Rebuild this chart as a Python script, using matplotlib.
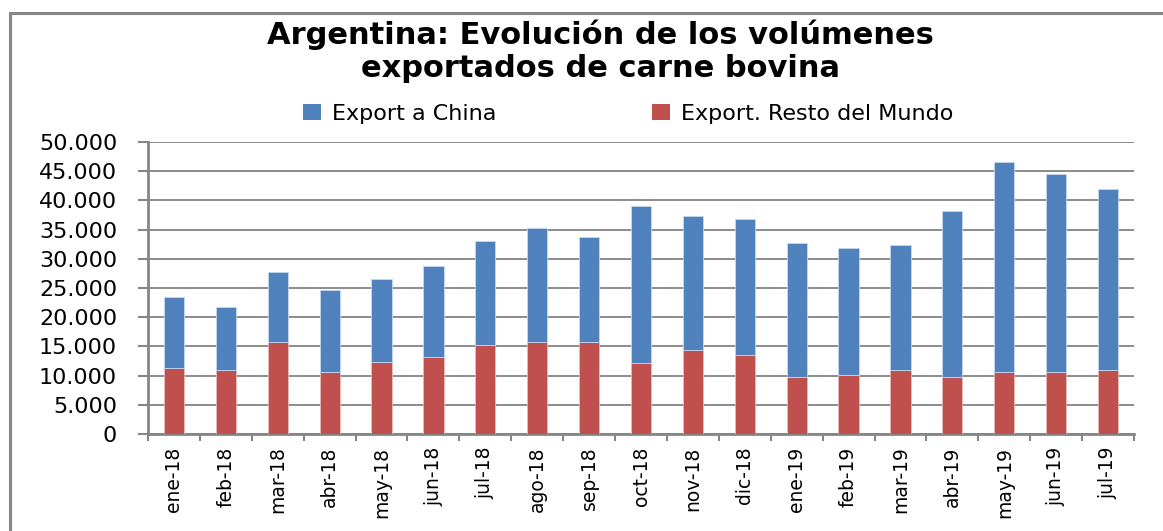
import matplotlib
matplotlib.use("Agg")
import matplotlib.pyplot as plt
from matplotlib.patches import Rectangle, Patch
import numpy as np

months = ["ene-18", "feb-18", "mar-18", "abr-18", "may-18", "jun-18", "jul-18",
          "ago-18", "sep-18", "oct-18", "nov-18", "dic-18", "ene-19", "feb-19",
          "mar-19", "abr-19", "may-19", "jun-19", "jul-19"]
totals = [23400, 21800, 27700, 24600, 26600, 28800, 33100, 35300, 33800, 39100,
          37300, 36900, 32700, 31900, 32400, 38200, 46500, 44600, 41900]
resto = [11300, 10900, 15800, 10600, 12300, 13100, 15300, 15800, 15800, 12100,
         14300, 13500, 9800, 10100, 11000, 9800, 10700, 10600, 10900]
china = [t - r for t, r in zip(totals, resto)]
yticks = list(range(0, 50001, 5000))
ytick_labels = ["0" if v == 0 else f"{v:,}".replace(",", ".") for v in yticks]

BLUE = "#4F81BD"
RED = "#C0504D"
GRAY = "#868686"

W, H = 1163, 531
fig = plt.figure(figsize=(W / 100, H / 100), dpi=100)
plt.rcParams['font.family'] = ['DejaVu Sans']

# outer chart border (left and top visible)
fig.patches.append(Rectangle((10 / W, -0.05), 1.2, 1 - 13 / H + 0.05,
                             transform=fig.transFigure, fill=False,
                             edgecolor=GRAY, linewidth=2.2))

ax = fig.add_axes([148 / W, 1 - 434 / H, (1134 - 148) / W, (434 - 142) / H])
x = np.arange(len(months))
bw = 0.39
ax.bar(x, resto, width=bw, color=RED, edgecolor="#e6b9b8", linewidth=0.6, zorder=3)
ax.bar(x, china, width=bw, bottom=resto, color=BLUE, edgecolor="#c6d9f1",
       linewidth=0.6, zorder=3)

ax.set_xlim(-0.5, len(months) - 0.5)
ax.set_ylim(0, 50000)
ax.set_yticks(yticks)
ax.set_yticklabels(ytick_labels, fontsize=16)
ax.yaxis.grid(True, color="#8c8c8c", linewidth=1.4, zorder=0)
ax.set_axisbelow(True)

ax.set_xticks(x)
ax.set_xticklabels(months, rotation=90, fontsize=13.5)
ax.tick_params(axis="x", length=0, pad=9)
ax.set_xticks(np.arange(-0.5, len(months) + 0.5, 1), minor=True)
ax.tick_params(axis="x", which="minor", length=5, width=1.5, color=GRAY, direction="out")
ax.tick_params(axis="y", length=7.2, width=1.5, color=GRAY, direction="out", pad=15)

for s in ["top", "right"]:
    ax.spines[s].set_visible(False)
for s in ["left", "bottom"]:
    ax.spines[s].set_color(GRAY)
    ax.spines[s].set_linewidth(2)

fig.text(0.516, 1 - 19 / H,
         "Argentina: Evolución de los volúmenes\nexportados de carne bovina",
         ha="center", va="top", fontsize=22, fontweight="bold", linespacing=1.2)

handles = [Patch(facecolor=BLUE, edgecolor="none"), Patch(facecolor=RED, edgecolor="none")]
fig.legend(handles, ["Export a China", "Export. Resto del Mundo"],
           loc="center", bbox_to_anchor=(0.54, 1 - 114 / H), ncol=2, frameon=False,
           fontsize=16, handlelength=0.8, handleheight=0.7, handletextpad=0.5,
           columnspacing=7.0)

fig.savefig("out.png", dpi=100)
